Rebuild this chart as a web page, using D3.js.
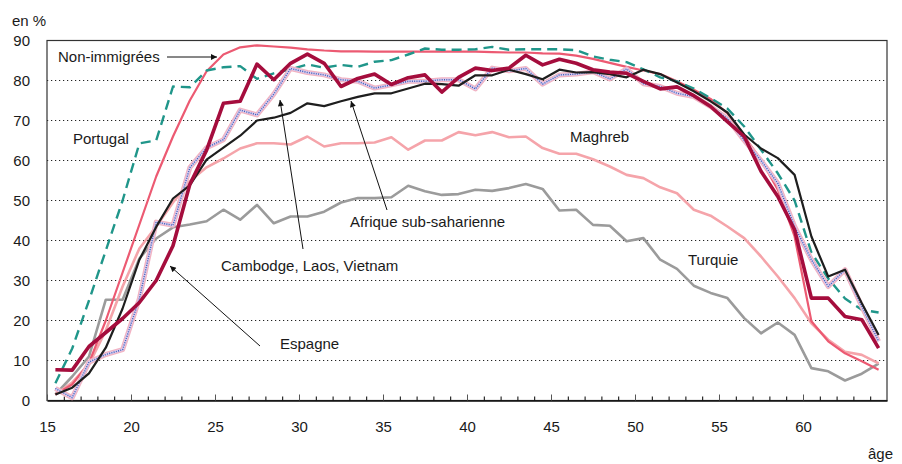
<!DOCTYPE html>
<html>
<head>
<meta charset="utf-8">
<script src="https://cdn.jsdelivr.net/npm/d3@7"></script>
<style>
  body { margin: 0; background: #fff; }
  svg text { font-family: "Liberation Sans", Arial, sans-serif; fill: #1a1a1a; }
</style>
</head>
<body>
<div id="chart"></div>
<script>
// ages 15..64, plotted at mid-year
var ages = d3.range(15, 65);

var nonImmigrees = [1.5, 4, 9.4, 20, 32, 44, 56, 66, 75, 82.3, 86.5, 88.3, 88.8, 88.5, 88.2, 87.8, 87.5, 87.3, 87.3, 87.2,
  87.2, 87.2, 87.2, 87.2, 87.2, 87.2, 87.1, 87, 87, 86.8, 86.7, 86.2, 85.4, 84.4, 83.4, 82.5, 81.6, 79.8, 77.7, 75.4,
  71.8, 66, 60.2, 52.7, 41, 19.8, 14.8, 11.8, 9.8, 7.7];
var portugal = [4.3, 13, 25, 37.5, 50, 64.3, 65, 78.5, 78.3, 82.5, 83.3, 83.6, 80.4, 81.8, 82.8, 84, 83.2, 83.9, 83.4, 84.7,
  85.1, 86.5, 88, 87.7, 87.7, 87.8, 88.4, 87.7, 87.8, 87.8, 87.8, 87.6, 86, 85.2, 84.6, 82.8, 80.8, 79.8, 78, 75.6,
  73, 68.5, 62.7, 56.8, 50, 37, 30.5, 25.5, 22.7, 22];
var maghreb = [1.5, 4.5, 9, 17.5, 28.5, 38, 43.5, 49.5, 54.8, 58.3, 60.5, 63, 64.3, 64.3, 64, 66, 63.5, 64.3, 64.3, 64.5,
  65.8, 62.7, 65, 65, 67.1, 66.3, 67.1, 65.8, 66, 63.1, 61.7, 61.7, 60.3, 58.5, 56.4, 55.6, 53.3, 51.8, 47.7, 46.2,
  43.5, 40.6, 36, 31, 25.6, 19.3, 15.2, 12.2, 11.4, 9.3];
var turquie = [1.5, 6, 11, 25.2, 25.2, 35.5, 40.5, 43.3, 44, 44.8, 47.7, 45.2, 48.9, 44.3, 46, 46, 47.2, 49.5, 50.6, 50.6,
  50.8, 53.7, 52.3, 51.4, 51.6, 52.7, 52.4, 53.1, 54.1, 52.9, 47.5, 47.7, 43.9, 43.7, 39.8, 40.6, 35.2, 32.9, 28.7, 26.9,
  25.6, 20.6, 16.8, 19.5, 16.4, 8.1, 7.3, 5, 6.7, 9.2];
var afrique = [1.5, 3.2, 6.8, 13.2, 23, 35.2, 43.4, 50.5, 53.8, 60.2, 63.2, 66.2, 70, 70.7, 71.9, 74.3, 73.6, 74.8, 75.9, 76.8,
  76.8, 78, 79.2, 79.1, 78.7, 81.3, 81.3, 82.7, 81.6, 80.3, 82.7, 82, 82.1, 81.6, 80.8, 82.7, 81.6, 79.5, 77.3, 74.8,
  72, 66.5, 63, 60.6, 56.4, 41, 31, 32.7, 24.3, 16.4];
var cambodge = [3, 0.7, 9.6, 11.5, 12.7, 25.5, 44.6, 43.8, 58.2, 63.2, 65.2, 72.6, 71.4, 76.6, 83, 82, 81.4, 80.2, 79.8, 78.1,
  78.9, 79.8, 79.8, 80.2, 80.2, 77.9, 83.1, 82.4, 83, 79.1, 81.4, 81.6, 82.2, 80.4, 82.9, 79.2, 78.5, 76.8, 76, 73.5,
  70.5, 65, 60, 54.3, 43.5, 35.2, 28.5, 32.7, 23.5, 14.8];
var espagne = [7.7, 7.6, 13.5, 17, 20.5, 24.5, 30, 38.7, 54, 62.6, 74.3, 74.8, 84.1, 80.2, 84.3, 86.6, 84.3, 78.5, 80.5, 81.6,
  79, 80.7, 81.4, 77.1, 80.8, 83.1, 82.5, 83.1, 86.3, 83.9, 85.3, 84.3, 82.7, 82.1, 81.8, 79.8, 77.9, 78.4, 76.2, 73.5,
  69.7, 66, 57.3, 51, 42.7, 25.6, 25.6, 21, 20.2, 13.1];

var yTicks = [0, 10, 20, 30, 40, 50, 60, 70, 80, 90];
var xLabels = [15, 20, 25, 30, 35, 40, 45, 50, 55, 60];

// Svg set up
var svgWidth = 902;
var svgHeight = 464;
var margin = { top: 40.5, right: 15, bottom: 63.5, left: 47 };
var width = svgWidth - margin.left - margin.right;
var height = svgHeight - margin.top - margin.bottom;

var svg = d3.select("#chart")
  .append("svg")
  .attr("width", svgWidth)
  .attr("height", svgHeight);

var chartGroup = svg.append("g")
  .attr("transform", `translate(${margin.left}, ${margin.top})`);

var xScale = d3.scaleLinear().domain([15, 65]).range([0, width]);
var yScale = d3.scaleLinear().domain([0, 90]).range([height, 0]);

// dotted gridlines
chartGroup.selectAll(".grid")
  .data(yTicks.filter(d => d > 0 && d < 90))
  .enter()
  .append("line")
  .attr("x1", 0)
  .attr("x2", width)
  .attr("y1", d => yScale(d))
  .attr("y2", d => yScale(d))
  .attr("stroke", "#222")
  .attr("stroke-width", 1.2)
  .attr("stroke-dasharray", "1.2,2.8");

// frame
chartGroup.append("rect")
  .attr("width", width)
  .attr("height", height)
  .attr("fill", "none")
  .attr("stroke", "#333")
  .attr("stroke-width", 1.2);

// y axis labels
var leftAxis = d3.axisLeft(yScale).tickValues(yTicks).tickSize(0).tickPadding(17);
var yAxis = chartGroup.append("g").call(leftAxis);
yAxis.select(".domain").remove();
yAxis.selectAll("text").style("font-size", "15px").attr("dy", "0.36em");

// x axis: minor and major ticks pointing up
var minorAxis = d3.axisBottom(xScale)
  .tickValues(d3.range(15, 66).filter(d => d % 5 !== 0))
  .tickSizeInner(-4).tickSizeOuter(0).tickFormat("");
chartGroup.append("g")
  .attr("transform", `translate(0, ${height})`)
  .call(minorAxis)
  .select(".domain").remove();

var bottomAxis = d3.axisBottom(xScale)
  .tickValues(xLabels)
  .tickSizeInner(-6).tickSizeOuter(0).tickPadding(21);
var xAxis = chartGroup.append("g")
  .attr("transform", `translate(0, ${height})`)
  .call(bottomAxis);
xAxis.select(".domain").attr("stroke", "#111").attr("stroke-width", 1.6);
xAxis.selectAll("text").style("font-size", "15px");
xAxis.selectAll(".tick line").attr("stroke", "#555");

// lines
var line = d3.line()
  .x((d, i) => xScale(ages[i] + 0.5))
  .y(d => yScale(d));

function drawLine(values, color, w, dash) {
  return chartGroup.append("path")
    .datum(values)
    .attr("d", line)
    .attr("fill", "none")
    .attr("stroke", color)
    .attr("stroke-width", w)
    .attr("stroke-linejoin", "round")
    .attr("stroke-dasharray", dash || null);
}

drawLine(turquie, "#9b9b9b", 2.6);
drawLine(maghreb, "#f5a4aa", 2.6);
drawLine(nonImmigrees, "#ec5a72", 2.2);
drawLine(portugal, "#20968a", 2.4, "10,6");
// Cambodge, Laos, Vietnam: pink halo with blue dots
drawLine(cambodge, "#f2b3c3", 5);
drawLine(cambodge, "#d4d0f0", 2.4);
drawLine(cambodge, "#4656b8", 1.4, "1,1.3");
drawLine(afrique, "#1e1e1e", 2.2);
drawLine(espagne, "#a50d3d", 3.6);

// arrow marker
svg.append("defs").append("marker")
  .attr("id", "arrow")
  .attr("viewBox", "0 0 10 10")
  .attr("refX", 10)
  .attr("refY", 5)
  .attr("markerWidth", 9)
  .attr("markerHeight", 6)
  .attr("markerUnits", "userSpaceOnUse")
  .attr("orient", "auto")
  .append("path")
  .attr("d", "M0,0L10,5L0,10Z")
  .attr("fill", "#111");

var arrows = [
  [167, 57, 217, 57],
  [303, 249, 280, 100],
  [387, 210, 351, 101],
  [260, 346, 170, 266]
];
svg.selectAll(".arrow")
  .data(arrows)
  .enter()
  .append("line")
  .attr("x1", d => d[0]).attr("y1", d => d[1])
  .attr("x2", d => d[2]).attr("y2", d => d[3])
  .attr("stroke", "#111")
  .attr("stroke-width", 1)
  .attr("marker-end", "url(#arrow)");

// labels
var labels = [
  ["Non-immigrées", 58, 62],
  ["Portugal", 73, 144],
  ["Maghreb", 570, 142],
  ["Afrique sub-saharienne", 350, 227],
  ["Cambodge, Laos, Vietnam", 221, 271],
  ["Espagne", 280, 349],
  ["Turquie", 688, 265],
  ["en %", 12, 26],
  ["âge", 868, 459]
];
svg.selectAll(".label")
  .data(labels)
  .enter()
  .append("text")
  .attr("x", d => d[1])
  .attr("y", d => d[2])
  .style("font-size", "15px")
  .text(d => d[0]);
</script>
</body>
</html>
